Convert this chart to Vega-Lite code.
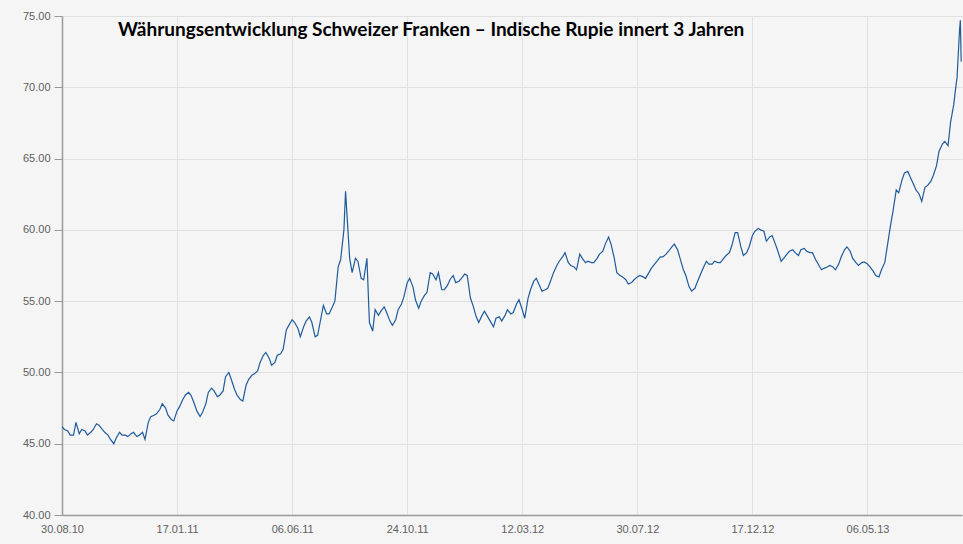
{
  "$schema": "https://vega.github.io/schema/vega-lite/v6.json",
  "width": 900,
  "height": 499,
  "autosize": {"type": "none"},
  "padding": {"left": 62, "top": 16, "right": 1, "bottom": 29},
  "background": "#f5f5f5",
  "config": {"view": {"stroke": null}},
  "title": {
    "text": "Währungsentwicklung Schweizer Franken – Indische Rupie innert 3 Jahren",
    "anchor": "start",
    "orient": "top",
    "frame": "group",
    "offset": -30,
    "dx": 56,
    "font": "Lato",
    "fontSize": 19,
    "fontWeight": "bold",
    "color": "#000000"
  },
  "data": {
    "values": [
      {"d": "2010-08-30", "v": 46.2}, {"d": "2010-09-06", "v": 45.9}, {"d": "2010-09-13", "v": 45.6}, {"d": "2010-09-20", "v": 45.7},
      {"d": "2010-09-27", "v": 45.9}, {"d": "2010-10-04", "v": 45.8}, {"d": "2010-10-11", "v": 46.4}, {"d": "2010-10-18", "v": 46.0},
      {"d": "2010-10-25", "v": 45.6}, {"d": "2010-11-01", "v": 45.0}, {"d": "2010-11-08", "v": 45.8}, {"d": "2010-11-15", "v": 45.6},
      {"d": "2010-11-22", "v": 45.7}, {"d": "2010-11-29", "v": 45.5}, {"d": "2010-12-06", "v": 45.8}, {"d": "2010-12-13", "v": 46.5},
      {"d": "2010-12-20", "v": 47.0}, {"d": "2010-12-27", "v": 47.4}, {"d": "2011-01-03", "v": 47.5}, {"d": "2011-01-10", "v": 46.7},
      {"d": "2011-01-17", "v": 47.3}, {"d": "2011-01-24", "v": 48.1}, {"d": "2011-01-31", "v": 48.6}, {"d": "2011-02-07", "v": 47.8},
      {"d": "2011-02-14", "v": 46.9}, {"d": "2011-02-21", "v": 47.8}, {"d": "2011-02-28", "v": 48.9}, {"d": "2011-03-07", "v": 48.3},
      {"d": "2011-03-14", "v": 48.7}, {"d": "2011-03-21", "v": 50.0}, {"d": "2011-03-28", "v": 48.8}, {"d": "2011-04-04", "v": 48.1},
      {"d": "2011-04-11", "v": 49.1}, {"d": "2011-04-18", "v": 49.8}, {"d": "2011-04-25", "v": 50.1}, {"d": "2011-05-02", "v": 51.2},
      {"d": "2011-05-09", "v": 51.0}, {"d": "2011-05-16", "v": 50.7}, {"d": "2011-05-23", "v": 51.3}, {"d": "2011-05-30", "v": 53.0},
      {"d": "2011-06-06", "v": 53.7}, {"d": "2011-06-13", "v": 53.1}, {"d": "2011-06-20", "v": 53.2}, {"d": "2011-06-27", "v": 53.9},
      {"d": "2011-07-04", "v": 52.5}, {"d": "2011-07-11", "v": 53.8}, {"d": "2011-07-18", "v": 54.1}, {"d": "2011-07-25", "v": 54.6},
      {"d": "2011-08-01", "v": 57.4}, {"d": "2011-08-08", "v": 60.0}, {"d": "2011-08-10", "v": 62.7}, {"d": "2011-08-15", "v": 58.0},
      {"d": "2011-08-22", "v": 58.0}, {"d": "2011-08-29", "v": 56.6}, {"d": "2011-09-05", "v": 58.0}, {"d": "2011-09-12", "v": 52.9},
      {"d": "2011-09-19", "v": 54.0}, {"d": "2011-09-26", "v": 54.6}, {"d": "2011-10-03", "v": 53.6}, {"d": "2011-10-10", "v": 53.7},
      {"d": "2011-10-17", "v": 54.8}, {"d": "2011-10-24", "v": 56.3}, {"d": "2011-10-31", "v": 56.0}, {"d": "2011-11-07", "v": 54.5},
      {"d": "2011-11-14", "v": 55.4}, {"d": "2011-11-21", "v": 57.0}, {"d": "2011-11-28", "v": 56.5}, {"d": "2011-12-05", "v": 55.8},
      {"d": "2011-12-12", "v": 56.1}, {"d": "2011-12-19", "v": 56.8}, {"d": "2011-12-26", "v": 56.4}, {"d": "2012-01-02", "v": 56.9},
      {"d": "2012-01-09", "v": 55.2}, {"d": "2012-01-16", "v": 53.9}, {"d": "2012-01-23", "v": 54.0}, {"d": "2012-01-30", "v": 53.9},
      {"d": "2012-02-06", "v": 53.2}, {"d": "2012-02-13", "v": 53.9}, {"d": "2012-02-20", "v": 54.0}, {"d": "2012-02-27", "v": 54.1},
      {"d": "2012-03-05", "v": 54.8}, {"d": "2012-03-12", "v": 54.4}, {"d": "2012-03-19", "v": 55.2}, {"d": "2012-03-26", "v": 56.4},
      {"d": "2012-04-02", "v": 56.1}, {"d": "2012-04-09", "v": 55.8}, {"d": "2012-04-16", "v": 56.5}, {"d": "2012-04-23", "v": 57.5},
      {"d": "2012-04-30", "v": 58.1}, {"d": "2012-05-07", "v": 57.7}, {"d": "2012-05-14", "v": 57.4}, {"d": "2012-05-21", "v": 58.3},
      {"d": "2012-05-28", "v": 57.7}, {"d": "2012-06-04", "v": 57.7}, {"d": "2012-06-11", "v": 58.0}, {"d": "2012-06-18", "v": 58.5},
      {"d": "2012-06-25", "v": 59.5}, {"d": "2012-07-02", "v": 58.0}, {"d": "2012-07-09", "v": 56.8}, {"d": "2012-07-16", "v": 56.5},
      {"d": "2012-07-23", "v": 56.3}, {"d": "2012-07-30", "v": 56.7}, {"d": "2012-08-06", "v": 56.7}, {"d": "2012-08-13", "v": 57.0},
      {"d": "2012-08-20", "v": 57.6}, {"d": "2012-08-27", "v": 58.1}, {"d": "2012-09-03", "v": 58.3}, {"d": "2012-09-10", "v": 58.8},
      {"d": "2012-09-17", "v": 58.6}, {"d": "2012-09-24", "v": 57.2}, {"d": "2012-10-01", "v": 56.0}, {"d": "2012-10-08", "v": 55.9},
      {"d": "2012-10-15", "v": 56.9}, {"d": "2012-10-22", "v": 57.8}, {"d": "2012-10-29", "v": 57.6}, {"d": "2012-11-05", "v": 57.7},
      {"d": "2012-11-12", "v": 58.0}, {"d": "2012-11-19", "v": 58.4}, {"d": "2012-11-26", "v": 59.8}, {"d": "2012-12-03", "v": 58.8},
      {"d": "2012-12-10", "v": 58.4}, {"d": "2012-12-17", "v": 59.6}, {"d": "2012-12-24", "v": 60.1}, {"d": "2012-12-31", "v": 59.9},
      {"d": "2013-01-07", "v": 59.5}, {"d": "2013-01-14", "v": 59.0}, {"d": "2013-01-21", "v": 57.8}, {"d": "2013-01-28", "v": 58.3},
      {"d": "2013-02-04", "v": 58.6}, {"d": "2013-02-11", "v": 58.2}, {"d": "2013-02-18", "v": 58.7}, {"d": "2013-02-25", "v": 58.4},
      {"d": "2013-03-04", "v": 57.9}, {"d": "2013-03-11", "v": 57.2}, {"d": "2013-03-18", "v": 57.4}, {"d": "2013-03-25", "v": 57.4},
      {"d": "2013-04-01", "v": 57.6}, {"d": "2013-04-08", "v": 58.6}, {"d": "2013-04-15", "v": 58.5}, {"d": "2013-04-22", "v": 57.7},
      {"d": "2013-04-29", "v": 57.7}, {"d": "2013-05-06", "v": 57.6}, {"d": "2013-05-13", "v": 57.1}, {"d": "2013-05-20", "v": 56.7},
      {"d": "2013-05-27", "v": 57.7}, {"d": "2013-06-03", "v": 60.3}, {"d": "2013-06-10", "v": 62.8}, {"d": "2013-06-17", "v": 63.5},
      {"d": "2013-06-24", "v": 64.1}, {"d": "2013-07-01", "v": 63.2}, {"d": "2013-07-08", "v": 62.5}, {"d": "2013-07-15", "v": 63.0},
      {"d": "2013-07-22", "v": 63.4}, {"d": "2013-07-29", "v": 64.5}, {"d": "2013-08-05", "v": 66.0}, {"d": "2013-08-12", "v": 65.9},
      {"d": "2013-08-19", "v": 68.8}, {"d": "2013-08-21", "v": 69.8}, {"d": "2013-08-23", "v": 70.7}, {"d": "2013-08-26", "v": 74.0},
      {"d": "2013-08-27", "v": 74.7}, {"d": "2013-08-28", "v": 71.8},
      {"d": "2010-09-02", "v": 46.0}, {"d": "2010-09-09", "v": 45.6}, {"d": "2010-09-16", "v": 46.5}, {"d": "2010-09-23", "v": 46.0},
      {"d": "2010-09-30", "v": 45.6}, {"d": "2010-10-07", "v": 46.0}, {"d": "2010-10-14", "v": 46.3}, {"d": "2010-10-21", "v": 45.8},
      {"d": "2010-10-28", "v": 45.3}, {"d": "2010-11-04", "v": 45.4}, {"d": "2010-11-11", "v": 45.6}, {"d": "2010-11-18", "v": 45.5},
      {"d": "2010-11-25", "v": 45.8}, {"d": "2010-12-02", "v": 45.6}, {"d": "2010-12-09", "v": 45.3}, {"d": "2010-12-16", "v": 46.9},
      {"d": "2010-12-23", "v": 47.1}, {"d": "2010-12-30", "v": 47.8}, {"d": "2011-01-06", "v": 47.0}, {"d": "2011-01-13", "v": 46.6},
      {"d": "2011-01-20", "v": 47.6}, {"d": "2011-01-27", "v": 48.4}, {"d": "2011-02-03", "v": 48.4}, {"d": "2011-02-10", "v": 47.3},
      {"d": "2011-02-17", "v": 47.2}, {"d": "2011-02-24", "v": 48.6}, {"d": "2011-03-03", "v": 48.7}, {"d": "2011-03-10", "v": 48.4},
      {"d": "2011-03-17", "v": 49.7}, {"d": "2011-03-24", "v": 49.5}, {"d": "2011-03-31", "v": 48.4}, {"d": "2011-04-07", "v": 48.0},
      {"d": "2011-04-14", "v": 49.5}, {"d": "2011-04-21", "v": 49.9}, {"d": "2011-04-28", "v": 50.7}, {"d": "2011-05-05", "v": 51.4},
      {"d": "2011-05-12", "v": 50.5}, {"d": "2011-05-19", "v": 51.2}, {"d": "2011-05-26", "v": 51.6}, {"d": "2011-06-02", "v": 53.3},
      {"d": "2011-06-09", "v": 53.5}, {"d": "2011-06-16", "v": 52.5}, {"d": "2011-06-23", "v": 53.6}, {"d": "2011-06-30", "v": 53.5},
      {"d": "2011-07-07", "v": 52.6}, {"d": "2011-07-14", "v": 54.7}, {"d": "2011-07-21", "v": 54.1}, {"d": "2011-07-28", "v": 55.0},
      {"d": "2011-08-04", "v": 57.9}, {"d": "2011-08-18", "v": 57.0}, {"d": "2011-08-25", "v": 57.8}, {"d": "2011-09-01", "v": 56.5},
      {"d": "2011-09-08", "v": 53.5}, {"d": "2011-09-15", "v": 54.4}, {"d": "2011-09-22", "v": 54.3}, {"d": "2011-09-29", "v": 54.2},
      {"d": "2011-10-06", "v": 53.3}, {"d": "2011-10-13", "v": 54.4}, {"d": "2011-10-20", "v": 55.3}, {"d": "2011-10-27", "v": 56.6},
      {"d": "2011-11-03", "v": 55.1}, {"d": "2011-11-10", "v": 55.0}, {"d": "2011-11-17", "v": 55.6}, {"d": "2011-11-24", "v": 56.9},
      {"d": "2011-12-01", "v": 57.0}, {"d": "2011-12-08", "v": 55.8}, {"d": "2011-12-15", "v": 56.5}, {"d": "2011-12-22", "v": 56.3},
      {"d": "2011-12-29", "v": 56.6}, {"d": "2012-01-05", "v": 56.8}, {"d": "2012-01-12", "v": 54.7}, {"d": "2012-01-19", "v": 53.5},
      {"d": "2012-01-26", "v": 54.3}, {"d": "2012-02-02", "v": 53.6}, {"d": "2012-02-09", "v": 53.8}, {"d": "2012-02-16", "v": 53.6},
      {"d": "2012-02-23", "v": 54.4}, {"d": "2012-03-01", "v": 54.2}, {"d": "2012-03-08", "v": 55.1}, {"d": "2012-03-15", "v": 53.8},
      {"d": "2012-03-22", "v": 55.8}, {"d": "2012-03-29", "v": 56.6}, {"d": "2012-04-05", "v": 55.7}, {"d": "2012-04-12", "v": 55.9},
      {"d": "2012-04-19", "v": 57.0}, {"d": "2012-04-26", "v": 57.8}, {"d": "2012-05-03", "v": 58.4}, {"d": "2012-05-10", "v": 57.5},
      {"d": "2012-05-17", "v": 57.2}, {"d": "2012-05-24", "v": 58.0}, {"d": "2012-05-31", "v": 57.8}, {"d": "2012-06-07", "v": 57.7},
      {"d": "2012-06-14", "v": 58.3}, {"d": "2012-06-21", "v": 59.0}, {"d": "2012-06-28", "v": 59.0}, {"d": "2012-07-05", "v": 57.0},
      {"d": "2012-07-12", "v": 56.7}, {"d": "2012-07-19", "v": 56.2}, {"d": "2012-07-26", "v": 56.5}, {"d": "2012-08-02", "v": 56.8},
      {"d": "2012-08-09", "v": 56.6}, {"d": "2012-08-16", "v": 57.3}, {"d": "2012-08-23", "v": 57.8}, {"d": "2012-08-30", "v": 58.1},
      {"d": "2012-09-06", "v": 58.5}, {"d": "2012-09-13", "v": 59.0}, {"d": "2012-09-20", "v": 58.0}, {"d": "2012-09-27", "v": 56.8},
      {"d": "2012-10-04", "v": 55.7}, {"d": "2012-10-11", "v": 56.35}, {"d": "2012-10-18", "v": 57.3}, {"d": "2012-10-25", "v": 57.6},
      {"d": "2012-11-01", "v": 57.8}, {"d": "2012-11-08", "v": 57.7}, {"d": "2012-11-15", "v": 58.2}, {"d": "2012-11-22", "v": 58.9},
      {"d": "2012-11-29", "v": 59.8}, {"d": "2012-12-06", "v": 58.2}, {"d": "2012-12-13", "v": 58.8}, {"d": "2012-12-20", "v": 59.9},
      {"d": "2012-12-27", "v": 60.0}, {"d": "2013-01-03", "v": 59.2}, {"d": "2013-01-10", "v": 59.6}, {"d": "2013-01-17", "v": 58.5},
      {"d": "2013-01-24", "v": 58.0}, {"d": "2013-01-31", "v": 58.5}, {"d": "2013-02-07", "v": 58.4}, {"d": "2013-02-14", "v": 58.6},
      {"d": "2013-02-21", "v": 58.5}, {"d": "2013-02-28", "v": 58.4}, {"d": "2013-03-07", "v": 57.6}, {"d": "2013-03-14", "v": 57.3},
      {"d": "2013-03-21", "v": 57.5}, {"d": "2013-03-28", "v": 57.2}, {"d": "2013-04-04", "v": 58.1}, {"d": "2013-04-11", "v": 58.8},
      {"d": "2013-04-18", "v": 58.0}, {"d": "2013-04-25", "v": 57.5}, {"d": "2013-05-02", "v": 57.75}, {"d": "2013-05-09", "v": 57.4},
      {"d": "2013-05-16", "v": 56.8}, {"d": "2013-05-23", "v": 57.2}, {"d": "2013-05-30", "v": 58.8}, {"d": "2013-06-06", "v": 61.3},
      {"d": "2013-06-13", "v": 62.6}, {"d": "2013-06-20", "v": 64.0}, {"d": "2013-06-27", "v": 63.7}, {"d": "2013-07-04", "v": 62.8},
      {"d": "2013-07-11", "v": 62.0}, {"d": "2013-07-18", "v": 63.1}, {"d": "2013-07-25", "v": 63.8}, {"d": "2013-08-01", "v": 65.5},
      {"d": "2013-08-08", "v": 66.2}, {"d": "2013-08-15", "v": 67.5}
    ]
  },
  "mark": {"type": "line", "color": "#1f5b9b", "strokeWidth": 1.2, "clip": true},
  "encoding": {
    "x": {
      "field": "d",
      "type": "temporal",
      "scale": {
        "type": "utc",
        "domain": [
          {"year": 2010, "month": "Aug", "date": 30, "utc": true},
          {"year": 2013, "month": "Aug", "date": 29, "utc": true}
        ]
      },
      "axis": {
        "title": null,
        "values": [
          {"year": 2010, "month": "Aug", "date": 30, "utc": true},
          {"year": 2011, "month": "Jan", "date": 17, "utc": true},
          {"year": 2011, "month": "Jun", "date": 6, "utc": true},
          {"year": 2011, "month": "Oct", "date": 24, "utc": true},
          {"year": 2012, "month": "Mar", "date": 12, "utc": true},
          {"year": 2012, "month": "Jul", "date": 30, "utc": true},
          {"year": 2012, "month": "Dec", "date": 17, "utc": true},
          {"year": 2013, "month": "May", "date": 6, "utc": true}
        ],
        "format": "%d.%m.%y",
        "ticks": false,
        "grid": true,
        "gridColor": "#e0e0e0",
        "gridWidth": 1,
        "domainColor": "#9a9a9a",
        "domainWidth": 1.5,
        "labelColor": "#606060",
        "labelFont": "Liberation Sans",
        "labelFontSize": 11,
        "labelPadding": 8,
        "labelFlush": false,
        "labelOverlap": false
      }
    },
    "y": {
      "field": "v",
      "type": "quantitative",
      "scale": {"domain": [40, 75], "nice": false, "zero": false},
      "axis": {
        "title": null,
        "values": [40, 45, 50, 55, 60, 65, 70, 75],
        "format": ".2f",
        "grid": true,
        "gridColor": "#e0e0e0",
        "gridWidth": 1,
        "domainColor": "#9a9a9a",
        "domainWidth": 1.5,
        "tickColor": "#9a9a9a",
        "tickSize": 8,
        "tickWidth": 1,
        "labelColor": "#606060",
        "labelFont": "Liberation Sans",
        "labelFontSize": 11,
        "labelPadding": 4
      }
    }
  }
}
